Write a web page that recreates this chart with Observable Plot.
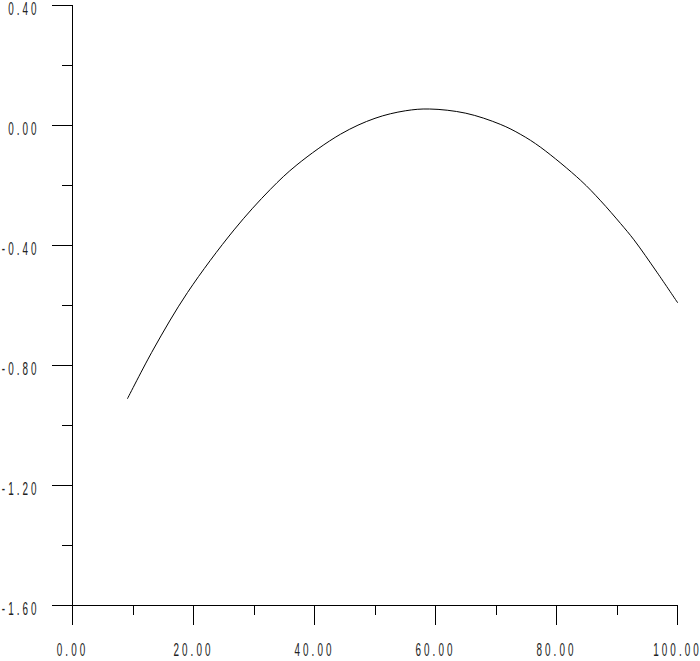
<!DOCTYPE html>
<html>
<head>
<meta charset="utf-8">
<script src="https://cdn.jsdelivr.net/npm/d3@7"></script>
<script src="https://cdn.jsdelivr.net/npm/@observablehq/plot@0.6"></script>
<style>
  html, body { margin: 0; padding: 0; background: #fff; }
  svg { display: block; overflow: visible; }
</style>
</head>
<body>
<div id="chart"></div>
<script>
// Curve values
const xValues = [9.1, 13.4, 19.0, 26.7, 32.7, 37.1, 44.3, 50, 55, 59, 65, 70.7, 74.1, 77.4, 84.0, 87.3, 90.6, 92.8, 96.6, 100];
const yValues = [-0.910, -0.745, -0.557, -0.348, -0.213, -0.131, -0.029, 0.024, 0.049, 0.055, 0.041, 0.004, -0.030, -0.073, -0.183, -0.251, -0.327, -0.381, -0.489, -0.590];

// Axis ticks
const xMajorTicks = [0, 20, 40, 60, 80, 100];
const xMinorTicks = [10, 30, 50, 70, 90];
const yMajorTicks = [0.4, 0.0, -0.4, -0.8, -1.2, -1.6];
const yMinorTicks = [0.2, -0.2, -0.6, -1.0, -1.4];

const data = xValues.map((x, i) => ({x, y: yValues[i]}));
const fmt = d => d.toFixed(2);

const chart = Plot.plot({
  width: 700,
  height: 661,
  marginLeft: 72,
  marginRight: 23,
  marginTop: 5,
  marginBottom: 56,
  style: {fontFamily: "'Liberation Sans', Arial, sans-serif", fontSize: "18px", color: "#000", background: "#fff"},
  x: {domain: [0, 100]},
  y: {domain: [-1.6, 0.4]},
  marks: [
    Plot.ruleY([-1.6], {stroke: "#000", strokeWidth: 1, shapeRendering: "crispEdges"}),
    Plot.ruleX([0], {stroke: "#000", strokeWidth: 1, shapeRendering: "crispEdges"}),
    Plot.axisX(xMajorTicks, {label: null, tickSize: 20, tickPadding: 18, tickFormat: fmt}),
    Plot.axisX(xMinorTicks, {label: null, tickSize: 10, tickFormat: () => ""}),
    Plot.axisY(yMajorTicks, {label: null, tickSize: 20, tickPadding: 13, tickFormat: fmt}),
    Plot.axisY(yMinorTicks, {label: null, tickSize: 10, tickFormat: () => ""}),
    Plot.line(data, {x: "x", y: "y", stroke: "#000", strokeWidth: 1, curve: "catmull-rom"})
  ]
});

const root = d3.select(chart);
root.selectAll('g[aria-label$="-axis tick"]').attr("shape-rendering", "crispEdges");

// Narrow, letter-spaced labels like the original plotter font
const s = 0.55;
root.selectAll('g[aria-label="x-axis tick label"] text, g[aria-label="y-axis tick label"] text').each(function() {
  const t = d3.select(this);
  const existing = t.attr("transform") || "";
  t.style("letter-spacing", "5.5px").attr("fill", "#222");
  t.attr("transform", `${existing} scale(${s},1)`);
});
root.selectAll('g[aria-label="y-axis tick label"] text').attr("dy", 4);

document.getElementById("chart").appendChild(chart);
</script>
</body>
</html>
